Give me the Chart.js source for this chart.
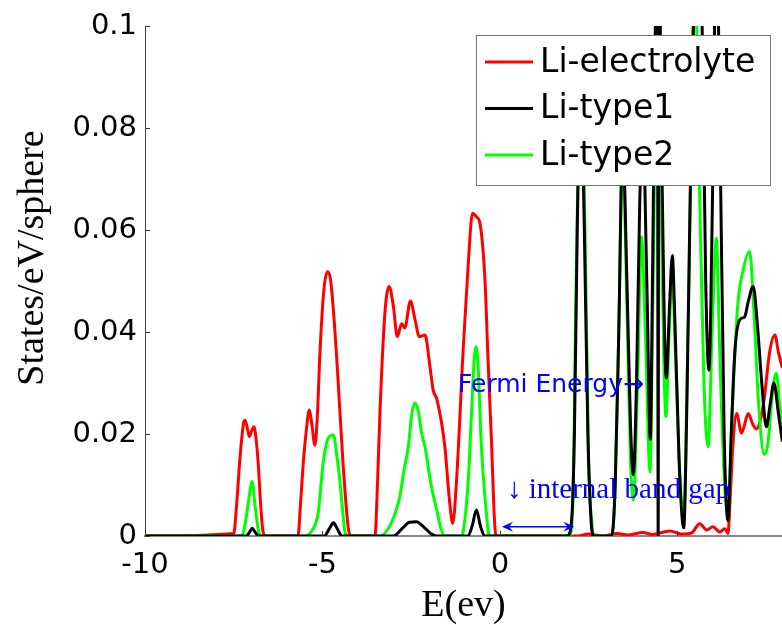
<!DOCTYPE html>
<html>
<head>
<meta charset="utf-8">
<title>Li DOS</title>
<script src="https://cdn.jsdelivr.net/npm/chart.js@4.4.1/dist/chart.umd.min.js"></script>
<style>
  html, body { margin: 0; padding: 0; background: #fff; }
  #wrap { width: 782px; height: 625px; }
</style>
</head>
<body>
<div id="wrap"><canvas id="dos-chart"></canvas></div>
<script>
// energies (eV) and states/eV/sphere
const redE = [-10, -7.5, -7.42, -7.32, -7.22, -7.18, -7.1, -7.06, -6.99, -6.93, -6.87, -6.81, -6.74, -6.67, -6.6,
  -5.69, -5.62, -5.54, -5.45, -5.37, -5.3, -5.21, -5.14, -5.07, -4.96, -4.86, -4.77, -4.65, -4.56, -4.42, -4.27, -4.18,
  -3.52, -3.45, -3.38, -3.24, -3.12, -3.0, -2.89, -2.77, -2.68, -2.52, -2.39, -2.27, -2.11, -1.97, -1.88, -1.77, -1.55,
  -1.43, -1.33, -1.22, -1.03, -0.89, -0.77, -0.66, -0.56, -0.42, -0.33, -0.23, -0.17, -0.11,
  2.2, 2.5, 2.9, 3.3, 3.6, 4.03, 4.3, 4.79, 5.1, 5.4, 5.63, 5.83, 6.0, 6.2, 6.34, 6.43,
  6.48, 6.56, 6.67, 6.81, 7.0, 7.12, 7.23, 7.35, 7.45, 7.6, 7.75, 7.85, 7.96];
const redDos = [0, 0.0005, 0.006, 0.0156, 0.0222, 0.0227, 0.0206, 0.0195, 0.0207, 0.0214, 0.019, 0.0143, 0.006, 0.0007, 0,
  0, 0.006, 0.0143, 0.021, 0.0247, 0.022, 0.0178, 0.024, 0.0359, 0.0482, 0.0518, 0.0502, 0.0404, 0.0306, 0.0143, 0.0015, 0,
  0, 0.01, 0.0241, 0.0437, 0.0489, 0.045, 0.0391, 0.0416, 0.0408, 0.0461, 0.0424, 0.0391, 0.0394, 0.0332, 0.0286, 0.0267, 0.0175,
  0.0077, 0.0025, 0.011, 0.0371, 0.0535, 0.0633, 0.0626, 0.0613, 0.0502, 0.0339, 0.0175, 0.0057, 0,
  0, 0.0004, 0, 0.0005, 0.0002, 0.0007, 0.0003, 0.001, 0.0004, 0.0006, 0.0024, 0.0012, 0.0018, 0.0008, 0.0014, 0.0005,
  0.006, 0.017, 0.024, 0.0202, 0.024, 0.022, 0.021, 0.023, 0.027, 0.036, 0.0394, 0.036, 0.033];

const blackE = [-10, -7.15, -7.05, -6.98, -6.9, -6.8, -4.95, -4.8, -4.69, -4.58, -4.45,
  -3.0, -2.75, -2.55, -2.35, -2.15, -1.95, -1.8, -0.9, -0.78, -0.66, -0.55, -0.42,
  1.9, 2.02, 2.1, 2.18, 2.28, 2.38, 2.48, 2.57, 2.65, 3.15, 3.25, 3.35, 3.46, 3.58, 3.68, 3.76, 3.85, 3.94,
  4.03, 4.14, 4.24, 4.3, 4.38, 4.44, 4.46, 4.48, 4.55, 4.69, 4.78, 4.86, 4.92, 5.05, 5.18, 5.28, 5.42,
  5.6, 5.7, 5.8, 5.89, 6.0, 6.1, 6.2, 6.32, 6.43, 6.52, 6.62, 6.76, 6.9, 7.0, 7.14, 7.25, 7.38, 7.51,
  7.62, 7.72, 7.85, 7.96];
const blackDos = [0, 0, 0.0008, 0.0015, 0.0008, 0, 0, 0.0015, 0.0026, 0.0014, 0,
  0, 0.0015, 0.0027, 0.0028, 0.0018, 0.0005, 0, 0, 0.002, 0.0051, 0.002, 0,
  0, 0.003, 0.02, 0.06, 0.09, 0.06, 0.02, 0.003, 0, 0, 0.01, 0.04, 0.078, 0.05, 0.022, 0.012, 0.03, 0.065,
  0.08, 0.05, 0.019, 0.05, 0.1, 0.12, 0, 0.12, 0.08, 0.031, 0.045, 0.055, 0.045, 0.015, 0.0016, 0.03, 0.09,
  0.12, 0.1, 0.05, 0.0325, 0.07, 0.12, 0.08, 0.02, 0.003, 0.02, 0.036, 0.0424, 0.043, 0.046, 0.0489, 0.042, 0.03, 0.0214,
  0.026, 0.03, 0.024, 0.0185];

const greenE = [-10, -7.3, -7.2, -7.1, -6.98, -6.9, -6.8, -6.72, -5.5, -5.3, -5.12, -4.98, -4.85, -4.69, -4.6, -4.51, -4.37, -4.3,
  -3.35, -3.1, -2.95, -2.82, -2.7, -2.58, -2.48, -2.39, -2.3, -2.2, -2.11, -1.95, -1.78, -1.65, -1.55,
  -1.1, -1.03, -0.89, -0.8, -0.72, -0.68, -0.62, -0.52, -0.38, -0.3,
  1.95, 2.05, 2.15, 2.28, 2.4, 2.5, 2.6, 2.68, 3.15, 3.25, 3.35, 3.46, 3.58, 3.68, 3.76, 3.88, 3.99, 4.1, 4.23,
  4.32, 4.44, 4.5, 4.58, 4.68, 4.77, 4.86, 4.95, 5.07, 5.18, 5.3, 5.5, 5.62, 5.75, 5.87, 5.98, 6.1, 6.2, 6.32, 6.43,
  6.55, 6.7, 6.85, 7.04, 7.15, 7.3, 7.45, 7.55, 7.68, 7.79, 7.88, 7.96];
const greenDos = [0, 0, 0.0015, 0.006, 0.0107, 0.006, 0.001, 0, 0, 0.001, 0.0045, 0.0143, 0.019, 0.0198, 0.016, 0.011, 0.001, 0,
  0, 0.002, 0.0045, 0.0077, 0.013, 0.0175, 0.024, 0.0261, 0.0245, 0.02, 0.0175, 0.0105, 0.0051, 0.0012, 0,
  0, 0.001, 0.011, 0.024, 0.035, 0.0371, 0.034, 0.0175, 0.0045, 0,
  0, 0.005, 0.05, 0.092, 0.06, 0.015, 0.002, 0, 0, 0.01, 0.04, 0.075, 0.045, 0.015, 0.007, 0.03, 0.0587, 0.04, 0.0126,
  0.05, 0.11, 0.09, 0.05, 0.0234, 0.04, 0.05, 0.035, 0.012, 0.004, 0.04, 0.11, 0.07, 0.03, 0.0175, 0.04, 0.0584, 0.035, 0.012, 0.004,
  0.025, 0.045, 0.052, 0.0558, 0.045, 0.025, 0.016, 0.018, 0.028, 0.0319, 0.026, 0.021];

const seriesNames = ['Li-electrolyte', 'Li-type1', 'Li-type2'];
const xTicks = [-10, -5, 0, 5];
const xTickLabels = ['-10', '-5', '0', '5'];
const yTicks = [0, 0.02, 0.04, 0.06, 0.08, 0.1];
const yTickLabels = ['0', '0.02', '0.04', '0.06', '0.08', '0.1'];

// notes placed in data coordinates
const fermiNote = { text: 'Fermi Energy\u2192', e: -1.18, dos: 0.0296 };
const gapNote = { text: '\u2193 internal band gap', e: 0.2, dos: 0.009 };
const gapArrow = { from: 0.06, to: 2.1, dos: 0.0018 };

function toPoints(es, ds) {
    return es.map((e, i) => ({ x: e, y: ds[i] }));
}

const sansFont = '"DejaVu Sans", sans-serif';
const serifFont = '"Liberation Serif", "Times New Roman", serif';

const decor = {
    id: 'decor',
    afterDatasetsDraw(chart) {
        const { ctx, chartArea, scales } = chart;
        const x = scales.x, y = scales.y;
        ctx.save();

        // inward tick marks
        ctx.strokeStyle = '#333';
        ctx.lineWidth = 1;
        yTicks.forEach(v => {
            const py = Math.round(y.getPixelForValue(v)) + 0.5;
            ctx.beginPath();
            ctx.moveTo(chartArea.left, py);
            ctx.lineTo(chartArea.left + 5, py);
            ctx.stroke();
        });
        xTicks.forEach(v => {
            const px = Math.round(x.getPixelForValue(v)) + 0.5;
            ctx.beginPath();
            ctx.moveTo(px, chartArea.bottom);
            ctx.lineTo(px, chartArea.bottom - 5);
            ctx.stroke();
        });

        // annotations
        ctx.fillStyle = '#0000ff';
        ctx.textBaseline = 'middle';
        ctx.textAlign = 'left';
        ctx.font = '25px ' + sansFont;
        ctx.fillText(fermiNote.text, x.getPixelForValue(fermiNote.e), y.getPixelForValue(fermiNote.dos));
        ctx.font = '29px ' + serifFont;
        ctx.fillText(gapNote.text, x.getPixelForValue(gapNote.e), y.getPixelForValue(gapNote.dos));

        const ax0 = x.getPixelForValue(gapArrow.from);
        const ax1 = x.getPixelForValue(gapArrow.to);
        const ay = y.getPixelForValue(gapArrow.dos);
        ctx.strokeStyle = '#0000ff';
        ctx.lineWidth = 1.5;
        ctx.beginPath();
        ctx.moveTo(ax0 + 4, ay);
        ctx.lineTo(ax1 - 4, ay);
        ctx.stroke();
        [[ax0, 1], [ax1, -1]].forEach(([tip, dir]) => {
            ctx.beginPath();
            ctx.moveTo(tip, ay);
            ctx.lineTo(tip + dir * 11, ay - 5);
            ctx.lineTo(tip + dir * 7, ay);
            ctx.lineTo(tip + dir * 11, ay + 5);
            ctx.closePath();
            ctx.fill();
        });

        // legend box
        const boxRight = chartArea.right - 12;
        const boxLeft = boxRight - 294;
        const boxTop = chartArea.top + 9;
        const boxH = 150;
        ctx.fillStyle = '#fff';
        ctx.fillRect(boxLeft, boxTop, boxRight - boxLeft, boxH);
        ctx.strokeStyle = '#777';
        ctx.lineWidth = 1;
        ctx.strokeRect(Math.round(boxLeft) + 0.5, Math.round(boxTop) + 0.5, Math.round(boxRight - boxLeft), boxH);
        ctx.font = '33px ' + sansFont;
        ctx.textBaseline = 'middle';
        chart.data.datasets.forEach((ds, i) => {
            const rowY = boxTop + 27 + i * 46.5;
            ctx.strokeStyle = ds.borderColor;
            ctx.lineWidth = 3;
            ctx.beginPath();
            ctx.moveTo(boxLeft + 9, rowY);
            ctx.lineTo(boxLeft + 57, rowY);
            ctx.stroke();
            ctx.fillStyle = '#000';
            ctx.fillText(ds.label, boxLeft + 64, rowY + 1);
        });

        // y axis title
        ctx.translate(33, 258);
        ctx.rotate(-Math.PI / 2);
        ctx.textAlign = 'center';
        ctx.fillStyle = '#000';
        ctx.font = '38px ' + serifFont;
        ctx.fillText('States/eV/sphere', 0, 0);

        ctx.restore();
    }
};

const ctx = document.getElementById('dos-chart').getContext('2d');
new Chart(ctx, {
    type: 'line',
    data: {
        datasets: [
            { label: seriesNames[0], data: toPoints(redE, redDos), borderColor: '#ff0000', order: 2 },
            { label: seriesNames[1], data: toPoints(blackE, blackDos), borderColor: '#000000', order: 0 },
            { label: seriesNames[2], data: toPoints(greenE, greenDos), borderColor: '#00ff00', order: 1 }
        ]
    },
    options: {
        responsive: true,
        maintainAspectRatio: false,
        animation: false,
        layout: { padding: { top: 26, right: 0, bottom: 0, left: 0 } },
        elements: {
            point: { radius: 0, hoverRadius: 0 },
            line: { borderWidth: 3, cubicInterpolationMode: 'monotone', fill: false }
        },
        plugins: {
            legend: { display: false },
            tooltip: { enabled: false }
        },
        scales: {
            x: {
                type: 'linear',
                min: -10,
                max: 7.95,
                afterBuildTicks: scale => { scale.ticks = xTicks.map(v => ({ value: v })); },
                afterFit: scale => { scale.height = 89; },
                grid: { display: false, drawTicks: false },
                border: { display: true, color: '#888', width: 2 },
                ticks: {
                    padding: 12,
                    color: '#000',
                    maxRotation: 0,
                    autoSkip: false,
                    font: { family: sansFont, size: 29 },
                    callback: (v, i) => xTickLabels[i]
                },
                title: {
                    display: true,
                    text: 'E(ev)',
                    color: '#000',
                    padding: 0,
                    font: { family: serifFont, size: 38, lineHeight: 1 }
                }
            },
            y: {
                min: 0,
                max: 0.1,
                afterBuildTicks: scale => { scale.ticks = yTicks.map(v => ({ value: v })); },
                afterFit: scale => { scale.width = 145; },
                grid: { display: false, drawTicks: false },
                border: { display: true, color: '#444', width: 1 },
                ticks: {
                    padding: 8,
                    color: '#000',
                    autoSkip: false,
                    font: { family: sansFont, size: 29 },
                    callback: (v, i) => yTickLabels[i]
                }
            }
        }
    },
    plugins: [decor]
});
</script>
</body>
</html>
